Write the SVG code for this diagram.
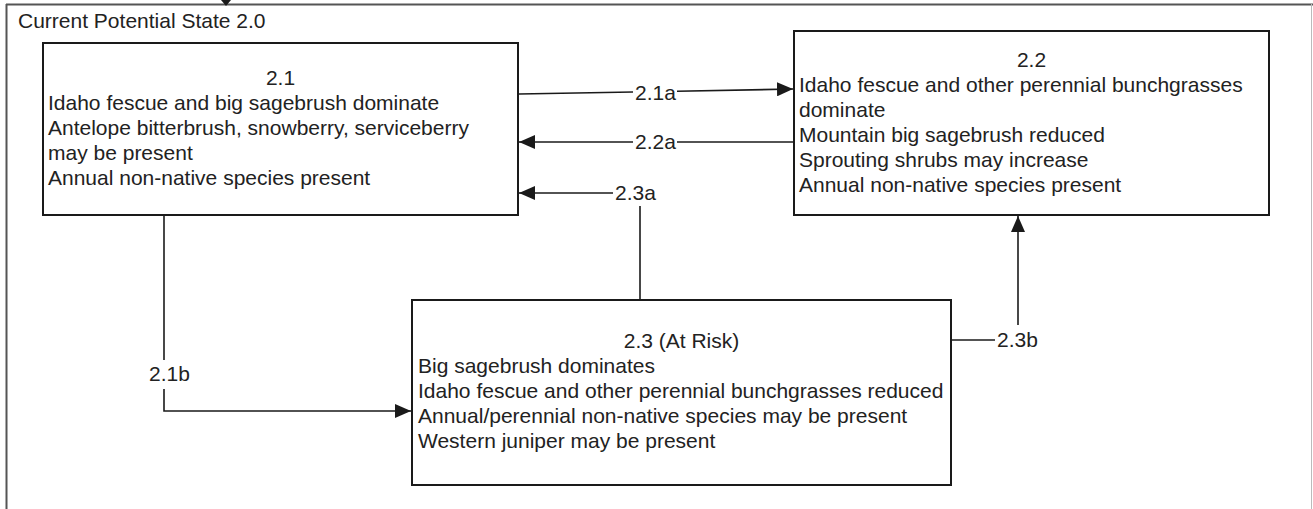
<svg xmlns="http://www.w3.org/2000/svg" width="1313" height="509" viewBox="0 0 1313 509">
<defs>
<marker id="arr" viewBox="0 0 16 14" refX="16" refY="7" markerWidth="16" markerHeight="14" orient="auto" markerUnits="userSpaceOnUse">
<path d="M0,0 L16,7 L0,14 z" fill="#1a1a1a"/>
</marker>
<style>
text{font-family:"Liberation Sans",Arial,sans-serif;font-size:21px;fill:#222}
.box{fill:#fff;stroke:#1a1a1a;stroke-width:2}
.c{fill:none;stroke:#1a1a1a;stroke-width:1.6}
.mid{text-anchor:middle}
</style>
</defs>
<rect width="1313" height="509" fill="#fff"/>
<g id="frame">
<line x1="6" y1="4.5" x2="1313" y2="4.5" stroke="#555" stroke-width="2"/>
<line x1="6.5" y1="4" x2="6.5" y2="509" stroke="#555" stroke-width="2"/>
<line x1="1311.5" y1="4" x2="1311.5" y2="509" stroke="#bbb" stroke-width="1"/>
<polygon points="221,0 231,0 226,6" fill="#1a1a1a"/>
<text x="18" y="28">Current Potential State 2.0</text>
</g>
<g id="node-2-1">
<rect class="box" x="43" y="43" width="475" height="172"/>
<text class="mid" x="280.5" y="85">2.1</text>
<text x="48" y="110">Idaho fescue and big sagebrush dominate</text>
<text x="48" y="135">Antelope bitterbrush, snowberry, serviceberry</text>
<text x="48" y="160">may be present</text>
<text x="48" y="185">Annual non-native species present</text>
</g>
<g id="node-2-2">
<rect class="box" x="794" y="31" width="475" height="184"/>
<text class="mid" x="1031.5" y="67">2.2</text>
<text x="799" y="92">Idaho fescue and other perennial bunchgrasses</text>
<text x="799" y="117">dominate</text>
<text x="799" y="142">Mountain big sagebrush reduced</text>
<text x="799" y="167">Sprouting shrubs may increase</text>
<text x="799" y="192">Annual non-native species present</text>
</g>
<g id="node-2-3">
<rect class="box" x="412" y="300" width="539" height="185"/>
<text class="mid" x="681.5" y="348">2.3 (At Risk)</text>
<text x="418" y="373">Big sagebrush dominates</text>
<text x="418" y="398">Idaho fescue and other perennial bunchgrasses reduced</text>
<text x="418" y="423">Annual/perennial non-native species may be present</text>
<text x="418" y="448">Western juniper may be present</text>
</g>
<g id="connectors">
<path class="c" d="M519,94 L633,92"/>
<path class="c" d="M677,91.3 L793,89" marker-end="url(#arr)"/>
<text x="635" y="100">2.1a</text>
<path class="c" d="M793,142 L677,142"/>
<path class="c" d="M633,142 L519,142" marker-end="url(#arr)"/>
<text x="635" y="149">2.2a</text>
<path class="c" d="M640,299 L640,206"/>
<path class="c" d="M613,193 L519,193" marker-end="url(#arr)"/>
<text x="615" y="200">2.3a</text>
<path class="c" d="M164,216 L164,360"/>
<path class="c" d="M164,389 L164,411 L411,411" marker-end="url(#arr)"/>
<text x="149" y="381">2.1b</text>
<path class="c" d="M952,340 L995,340"/>
<path class="c" d="M1018,325 L1018,216" marker-end="url(#arr)"/>
<text x="997" y="347">2.3b</text>
</g>
</svg>
